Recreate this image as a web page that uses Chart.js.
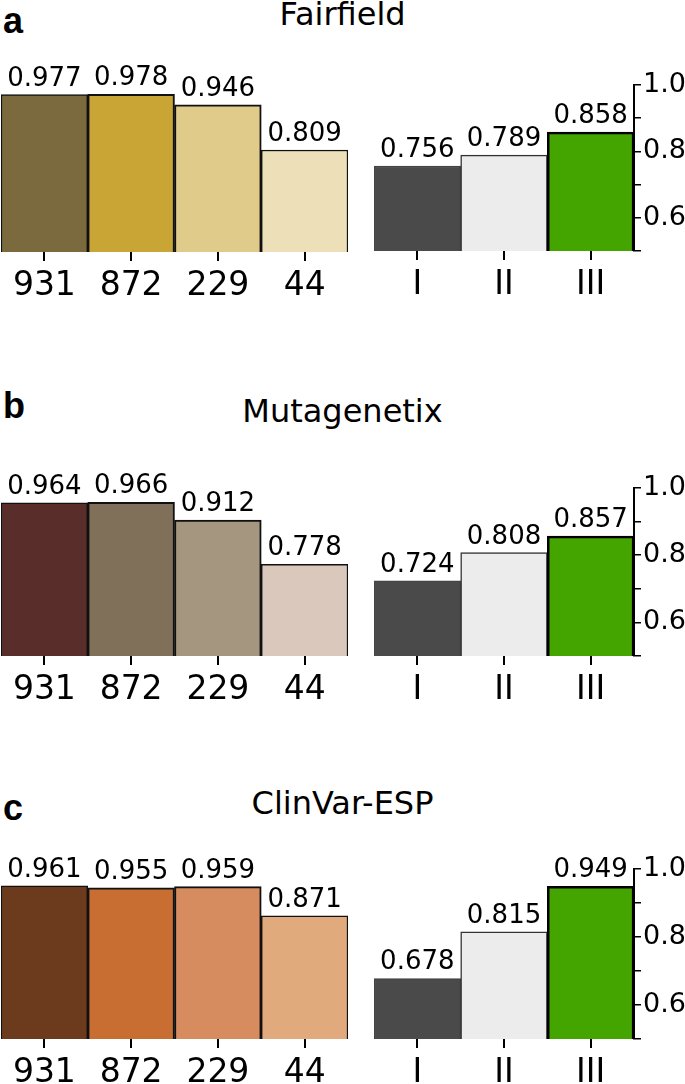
<!DOCTYPE html>
<html>
<head>
<meta charset="utf-8">
<script src="https://cdn.jsdelivr.net/npm/chart.js@4.4.1/dist/chart.umd.min.js"></script>
<style>
  html, body { margin: 0; padding: 0; background: #fff; }
  body { width: 685px; height: 1084px; position: relative; overflow: hidden; }
  .box { position: absolute; }
  .title { position: absolute; left: 0; width: 685px; text-align: center; font-family: 'DejaVu Sans'; font-size: 32px; line-height: 32px; color: #000; }
  .plabel { position: absolute; left: 3px; font-family: 'Liberation Sans'; font-weight: bold; font-size: 36px; line-height: 36px; color: #000; }
</style>
</head>
<body>
<script>
// ---------- data ----------
const categoriesLeft = ['931', '872', '229', '44'];
const categoriesRight = ['I', 'II', 'III'];
const panelTitles = ['Fairfield', 'Mutagenetix', 'ClinVar-ESP'];
const panelLetters = ['a', 'b', 'c'];
const fairfieldLeft = [0.977, 0.978, 0.946, 0.809];
const fairfieldRight = [0.756, 0.789, 0.858];
const mutagenetixLeft = [0.964, 0.966, 0.912, 0.778];
const mutagenetixRight = [0.724, 0.808, 0.857];
const clinvarLeft = [0.961, 0.955, 0.959, 0.871];
const clinvarRight = [0.678, 0.815, 0.949];
const yMin = 0.5, yMax = 1.0, yStep = 0.1;

// ---------- styles / layout ----------
const leftColors = [
  ['#7a6a3e', '#c8a535', '#e0cb8a', '#ede0b9'],
  ['#582d2a', '#807059', '#a59680', '#dac8bc'],
  ['#6c3b1e', '#c86e32', '#d78c5f', '#e1aa7d']
];
const rightColors = ['#4a4a4a', '#ececec', '#44a500'];
const rightBorders = ['#444', '#333', '#000'];
const rightBorderW = [1.5, 1.5, 2.5];
const leftBorderW = [1.5, 2, 2, 1.5];

const leftData = [fairfieldLeft, mutagenetixLeft, clinvarLeft];
const rightData = [fairfieldRight, mutagenetixRight, clinvarRight];

// chart-area top/bottom (px) for each panel
const leftArea = [[87, 252], [491, 656], [873, 1039]];
const rightArea = [[85, 251], [488, 656], [869, 1039]];
const titleBaseline = [25, 422, 814];
const letterBaseline = [33, 418, 820];

const PAD_TOP = 60, XAXIS_H = 52;

const valueLabels = {
  id: 'valueLabels',
  afterDatasetsDraw(chart) {
    const ctx = chart.ctx;
    const meta = chart.getDatasetMeta(0);
    const ds = chart.data.datasets[0];
    ctx.save();
    ctx.font = '26px "DejaVu Sans"';
    ctx.fillStyle = '#000';
    ctx.textAlign = 'center';
    ctx.textBaseline = 'alphabetic';
    meta.data.forEach((bar, i) => {
      ctx.fillText(ds.data[i].toFixed(3), bar.x, bar.y - 9);
    });
    ctx.restore();
  }
};

function addBox(left, top, width, height) {
  const d = document.createElement('div');
  d.className = 'box';
  d.style.left = left + 'px'; d.style.top = top + 'px';
  d.style.width = width + 'px'; d.style.height = height + 'px';
  const c = document.createElement('canvas');
  d.appendChild(c);
  document.body.appendChild(d);
  return c;
}

function xAxis() {
  return {
    type: 'category',
    offset: true,
    border: { display: false },
    grid: { display: true, drawOnChartArea: false, drawTicks: true, offset: false, tickLength: 9, color: '#000', lineWidth: 2 },
    ticks: { color: '#000', font: { family: 'DejaVu Sans', size: 33 }, padding: 6, maxRotation: 0, autoSkip: false },
    afterFit: (s) => { s.height = XAXIS_H; }
  };
}

function makeLeft(p) {
  const [t, b] = leftArea[p];
  const c = addBox(0, t - PAD_TOP, 350, (b - t) + PAD_TOP + XAXIS_H);
  new Chart(c, {
    type: 'bar',
    data: { labels: categoriesLeft, datasets: [{
      data: leftData[p], backgroundColor: leftColors[p], borderColor: '#111',
      borderWidth: leftBorderW, borderSkipped: false,
      categoryPercentage: 1, barPercentage: 1
    }]},
    options: {
      responsive: true, maintainAspectRatio: false, animation: false,
      layout: { padding: { top: PAD_TOP, left: 1, right: 2, bottom: 0 } },
      plugins: { legend: { display: false }, tooltip: { enabled: false } },
      scales: {
        x: xAxis(),
        y: { display: false, min: yMin, max: yMax }
      }
    },
    plugins: [valueLabels]
  });
}

function makeRight(p) {
  const [t, b] = rightArea[p];
  const c = addBox(372, t - PAD_TOP, 313, (b - t) + PAD_TOP + XAXIS_H);
  new Chart(c, {
    type: 'bar',
    data: { labels: categoriesRight, datasets: [{
      data: rightData[p], backgroundColor: rightColors, borderColor: rightBorders,
      borderWidth: rightBorderW, borderSkipped: false,
      categoryPercentage: 1, barPercentage: 1
    }]},
    options: {
      responsive: true, maintainAspectRatio: false, animation: false,
      layout: { padding: { top: PAD_TOP, left: 2, right: 0, bottom: 0 } },
      plugins: { legend: { display: false }, tooltip: { enabled: false } },
      scales: {
        x: xAxis(),
        y: {
          position: 'right', min: yMin, max: yMax,
          border: { display: true, color: '#000', width: 2 },
          grid: { drawOnChartArea: false, drawTicks: true, tickLength: 7, color: '#000', lineWidth: 1.5 },
          ticks: {
            stepSize: yStep, padding: 2, color: '#000', autoSkip: false,
            font: { family: 'DejaVu Sans', size: 27 },
            callback: (v) => (Math.round(v * 10) % 2 === 0 ? Number(v).toFixed(1) : '')
          },
          afterFit: (s) => { s.width = 51; }
        }
      }
    },
    plugins: [valueLabels]
  });
}

for (let p = 0; p < 3; p++) {
  const tt = document.createElement('div');
  tt.className = 'title';
  tt.style.top = (titleBaseline[p] - 27) + 'px';
  tt.textContent = panelTitles[p];
  document.body.appendChild(tt);
  const pl = document.createElement('div');
  pl.className = 'plabel';
  pl.style.top = (letterBaseline[p] - 30.5) + 'px';
  pl.textContent = panelLetters[p];
  document.body.appendChild(pl);
  makeLeft(p);
  makeRight(p);
}
</script>
</body>
</html>
